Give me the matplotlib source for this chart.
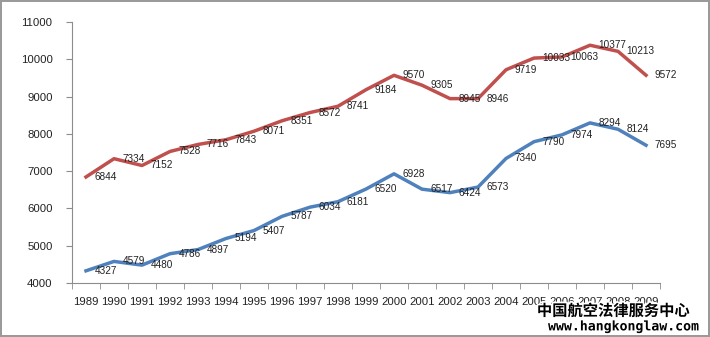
import matplotlib
matplotlib.use("Agg")
import matplotlib.pyplot as plt
import matplotlib.patheffects as pe

# ── Data ───────────────────────────────────────────────────────────────────────
years = [str(y) for y in range(1989, 2010)]
red_values = [6844, 7334, 7152, 7528, 7716, 7843, 8071, 8351, 8572, 8741, 9184,
              9570, 9305, 8945, 8946, 9719, 10033, 10063, 10377, 10213, 9572]
blue_values = [4327, 4579, 4480, 4786, 4897, 5194, 5407, 5787, 6034, 6181, 6520,
               6928, 6517, 6424, 6573, 7340, 7790, 7974, 8294, 8124, 7695]
y_ticks = [4000, 5000, 6000, 7000, 8000, 9000, 10000, 11000]

RED = "#C0504D"
BLUE = "#4F81BD"
TEXT = "#222222"

fig = plt.figure(figsize=(7.1, 3.37), dpi=100)
fig.patch.set_facecolor("white")
fig.patch.set_edgecolor("#9a9a9a")
fig.patch.set_linewidth(1.5)
ax = fig.add_axes([0.1014, 0.1602, 0.8282, 0.7745])

x = list(range(len(years)))
for vals, color in [(red_values, RED), (blue_values, BLUE)]:
    ax.plot(x, vals, color=color, linewidth=2.5, solid_joinstyle="round")
    # value labels sit just right of each point
    for xi, v in zip(x, vals):
        ax.annotate(str(v), (xi, v), xytext=(6, 0), textcoords="offset points",
                    ha="left", va="center", fontsize=7.2, color=TEXT,
                    family="Liberation Sans")

ax.set_xlim(-0.5, len(years) - 0.5)
ax.set_ylim(4000, 11000)
ax.set_yticks(y_ticks)
ax.set_yticklabels([str(t) for t in y_ticks])
ax.set_xticks(x)
ax.set_xticklabels(years)
ax.set_xticks([i - 0.5 for i in range(len(years) + 1)], minor=True)

ax.spines[["top", "right"]].set_visible(False)
for s in ["left", "bottom"]:
    ax.spines[s].set_color("#8c8c8c")
    ax.spines[s].set_linewidth(0.8)
ax.tick_params(axis="x", which="major", length=0, pad=10)
ax.tick_params(axis="x", which="minor", length=4, color="#8c8c8c")
ax.tick_params(axis="y", length=4, color="#8c8c8c", pad=10)
for lab in ax.get_xticklabels() + ax.get_yticklabels():
    lab.set_family("Liberation Sans")
    lab.set_fontsize(8.2)
    lab.set_color(TEXT)

# ── Watermark ─────────────────────────────────────────────────────────────────
stroke = [pe.withStroke(linewidth=2.5, foreground="white")]
fig.text(0.971, 0.078, "中国航空法律服务中心", ha="right", va="center",
         fontsize=11, fontweight="bold", color="black",
         family=["Noto Sans CJK SC", "DejaVu Sans"], path_effects=stroke)
fig.text(0.986, 0.03, "www.hangkonglaw.com", ha="right", va="center",
         fontsize=9.5, fontweight="bold", color="black",
         family="DejaVu Sans Mono", path_effects=stroke)

fig.savefig("out.png", dpi=100)
